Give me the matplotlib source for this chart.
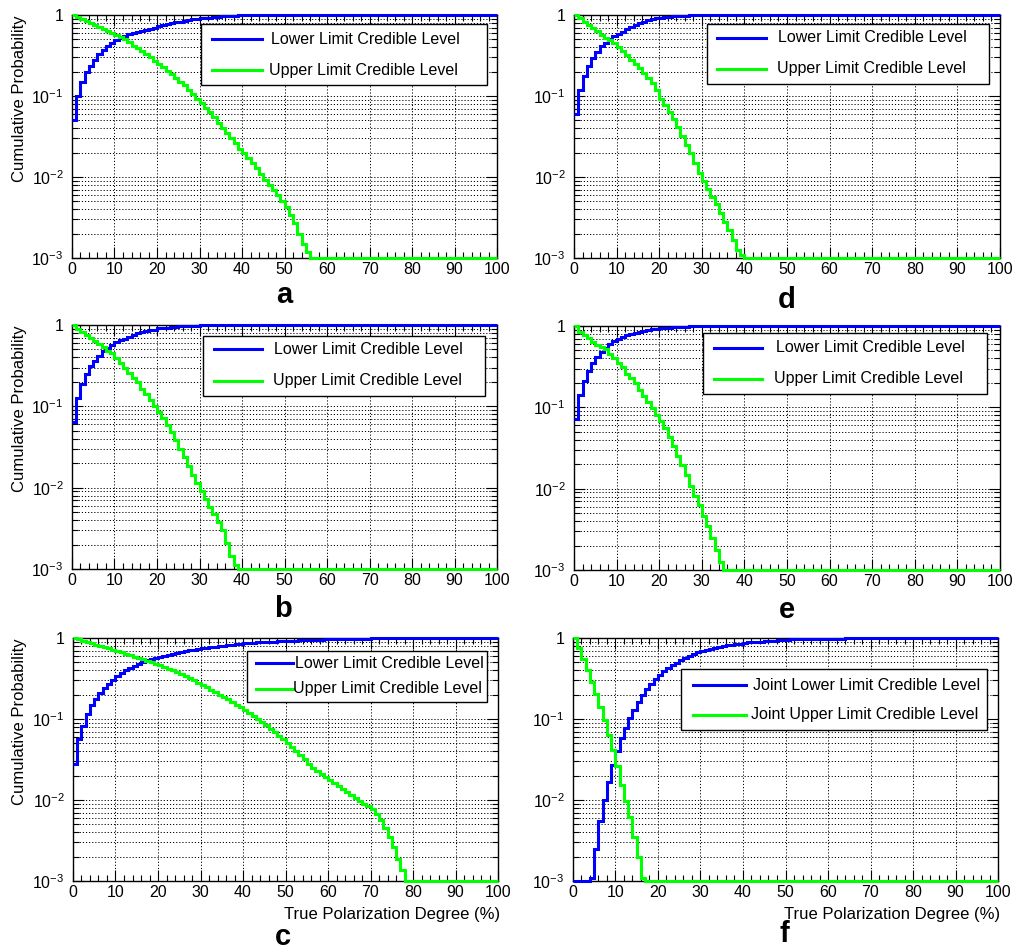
import matplotlib
matplotlib.use('Agg')
import matplotlib.pyplot as plt
import numpy as np
from matplotlib.ticker import LogLocator, MultipleLocator, NullFormatter
from matplotlib.patches import Rectangle
from matplotlib.lines import Line2D

plt.rcParams['font.family'] = ['Liberation Sans', 'DejaVu Sans']
plt.rcParams['mathtext.fontset'] = 'custom'
plt.rcParams['mathtext.rm'] = 'Liberation Sans'
plt.rcParams['mathtext.default'] = 'regular'

# cumulative probability per 1% bin of true polarization degree (bin i = [i, i+1]);
# the last value of each list holds up to 100%
lower_a = [0.051, 0.100, 0.150, 0.196, 0.237, 0.278, 0.327, 0.37, 0.41, 0.45,
           0.49, 0.525, 0.55, 0.577, 0.60, 0.62, 0.64, 0.66, 0.68, 0.70,
           0.73, 0.75, 0.77, 0.79, 0.81, 0.83, 0.85, 0.87, 0.88, 0.90,
           0.91, 0.92, 0.93, 0.94, 0.95, 0.96, 0.965, 0.97, 0.975, 1.0]
upper_a = [1.0, 0.95, 0.90, 0.85, 0.80, 0.76, 0.72, 0.68, 0.64, 0.60,
           0.57, 0.53, 0.50, 0.46, 0.42, 0.39, 0.36, 0.33, 0.30, 0.27,
           0.25, 0.225, 0.205, 0.185, 0.165, 0.15, 0.135, 0.12, 0.105, 0.092,
           0.081, 0.071, 0.063, 0.055, 0.047, 0.040, 0.035, 0.030, 0.026, 0.022,
           0.0196, 0.017, 0.015, 0.013, 0.011, 0.0092, 0.0080, 0.0070, 0.0060, 0.0051,
           0.0043, 0.0034, 0.0027, 0.0020, 0.0015, 0.0012, 0.0]

lower_b = [0.065, 0.128, 0.19, 0.25, 0.31, 0.364, 0.42, 0.48, 0.52, 0.56,
           0.62, 0.65, 0.68, 0.72, 0.75, 0.79, 0.81, 0.84, 0.87, 0.88,
           0.91, 0.92, 0.93, 0.94, 0.95, 0.96, 0.97, 0.975, 0.98, 0.985, 1.0]
upper_b = [1.0, 0.89, 0.81, 0.75, 0.69, 0.64, 0.58, 0.53, 0.48, 0.45,
           0.39, 0.34, 0.30, 0.26, 0.22, 0.197, 0.163, 0.142, 0.12, 0.101,
           0.086, 0.071, 0.059, 0.048, 0.0386, 0.030, 0.024, 0.0187, 0.0143, 0.0113,
           0.0090, 0.0072, 0.0058, 0.0047, 0.0038, 0.0030, 0.0021, 0.00145, 0.00112, 0.0]

lower_c = [0.028, 0.057, 0.083, 0.116, 0.15, 0.178, 0.211, 0.241, 0.273, 0.306,
           0.34, 0.37, 0.40, 0.43, 0.455, 0.48, 0.505, 0.53, 0.545, 0.566,
           0.58, 0.60, 0.617, 0.635, 0.653, 0.67, 0.69, 0.705, 0.72, 0.73,
           0.745, 0.76, 0.77, 0.78, 0.795, 0.80, 0.82, 0.83, 0.835, 0.85,
           0.86, 0.87, 0.875, 0.88, 0.89, 0.895, 0.90, 0.905, 0.91, 0.915,
           0.92, 0.925, 0.93, 0.935, 0.94, 0.945, 0.95, 0.952, 0.955, 0.96,
           0.962, 0.965, 0.967, 0.97, 0.972, 0.975, 0.977, 0.98, 0.982, 0.984,
           0.986, 0.988, 0.99, 0.991, 0.992, 0.993, 0.994, 1.0]
upper_c = [1.0, 0.96, 0.93, 0.89, 0.86, 0.83, 0.80, 0.77, 0.75, 0.72,
           0.70, 0.67, 0.64, 0.62, 0.59, 0.57, 0.55, 0.52, 0.50, 0.48,
           0.46, 0.44, 0.42, 0.40, 0.38, 0.363, 0.34, 0.32, 0.30, 0.28,
           0.26, 0.245, 0.23, 0.213, 0.20, 0.187, 0.175, 0.162, 0.15, 0.139,
           0.128, 0.118, 0.109, 0.10, 0.091, 0.0835, 0.076, 0.069, 0.062, 0.056,
           0.050, 0.045, 0.040, 0.036, 0.032, 0.028, 0.025, 0.023, 0.021, 0.019,
           0.0175, 0.016, 0.0147, 0.0135, 0.0124, 0.0114, 0.0105, 0.0097, 0.0090, 0.0084,
           0.0078, 0.0068, 0.0057, 0.0045, 0.0035, 0.0026, 0.00185, 0.00136, 0.0]

lower_d = [0.06, 0.119, 0.177, 0.235, 0.297, 0.35, 0.41, 0.45, 0.50, 0.55,
           0.59, 0.62, 0.67, 0.72, 0.75, 0.80, 0.83, 0.86, 0.88, 0.91,
           0.93, 0.94, 0.95, 0.96, 0.97, 0.975, 0.98, 1.0]
upper_d = [1.0, 0.91, 0.81, 0.75, 0.70, 0.64, 0.57, 0.525, 0.49, 0.45,
           0.40, 0.36, 0.32, 0.28, 0.25, 0.22, 0.19, 0.166, 0.143, 0.119,
           0.093, 0.077, 0.064, 0.052, 0.041, 0.032, 0.0248, 0.0196, 0.0148, 0.0113,
           0.0088, 0.0072, 0.0057, 0.0047, 0.0036, 0.0028, 0.0022, 0.00166, 0.00126, 0.0011, 0.0]

lower_e = [0.071, 0.142, 0.213, 0.28, 0.354, 0.42, 0.483, 0.53, 0.60, 0.65,
           0.69, 0.73, 0.77, 0.80, 0.83, 0.85, 0.875, 0.89, 0.91, 0.92,
           0.935, 0.945, 0.955, 0.96, 0.97, 0.975, 0.98, 1.0]
upper_e = [1.0, 0.85, 0.775, 0.705, 0.64, 0.58, 0.55, 0.52, 0.45, 0.40,
           0.354, 0.31, 0.26, 0.227, 0.197, 0.163, 0.138, 0.117, 0.097, 0.080,
           0.067, 0.055, 0.043, 0.033, 0.025, 0.0195, 0.0147, 0.0109, 0.0082, 0.0063,
           0.0046, 0.0035, 0.00245, 0.00176, 0.00127, 0.0]

lower_f = [0.0, 0.0, 0.0, 0.0, 0.0011, 0.0025, 0.0055, 0.0099, 0.0167, 0.027,
           0.040, 0.058, 0.078, 0.103, 0.13, 0.162, 0.20, 0.237, 0.273, 0.315,
           0.352, 0.39, 0.43, 0.46, 0.495, 0.53, 0.56, 0.60, 0.635, 0.67,
           0.70, 0.72, 0.74, 0.76, 0.775, 0.79, 0.81, 0.825, 0.84, 0.855,
           0.87, 0.88, 0.89, 0.895, 0.90, 0.91, 0.92, 0.93, 0.94, 0.945,
           0.954, 0.96, 0.963, 0.966, 0.969, 0.97, 0.973, 0.976, 0.978, 0.98,
           0.982, 0.983, 0.984, 0.985, 0.986, 0.987, 0.988, 0.989, 0.99, 0.991,
           0.992, 0.993, 0.994, 0.995, 0.996, 0.997, 0.998, 1.0]
upper_f = [1.0, 0.76, 0.555, 0.40, 0.288, 0.203, 0.14, 0.097, 0.063, 0.041,
           0.0266, 0.0155, 0.0097, 0.0061, 0.0035, 0.0020, 0.0011, 0.0]

lower_label = "Lower Limit Credible Level"
upper_label = "Upper Limit Credible Level"
joint_lower_label = "Joint Lower Limit Credible Level"
joint_upper_label = "Joint Upper Limit Credible Level"
y_ticks = [1e-3, 1e-2, 1e-1, 1]
y_tick_labels = [r'$10^{-3}$', r'$10^{-2}$', r'$10^{-1}$', '1']

BLUE = '#0000ff'
GREEN = '#00ff00'
W, H = 1020, 950

fig = plt.figure(figsize=(W / 100, H / 100), dpi=100)


def fx(x):
    return x / W


def fy(y):
    return 1 - y / H


def draw_legend(box, line_x, rows):
    l, t, r, b = box
    fig.add_artist(Rectangle((fx(l), fy(b)), fx(r - l), (b - t) / H, transform=fig.transFigure,
                             facecolor='white', edgecolor='black', lw=1.0, zorder=5))
    for color, label, y, tx in rows:
        fig.add_artist(Line2D([fx(line_x[0]), fx(line_x[1])], [fy(y), fy(y)], transform=fig.transFigure,
                              color=color, lw=2.2, zorder=6))
        fig.text(fx(tx), fy(y), label, ha='left', va='center', fontsize=11.5, zorder=7)


# letter, lower, upper, axes box (left, top, right, bottom) in px, legend box, legend line x, legend rows
panels = [
    ('a', lower_a, upper_a, (72, 15, 497, 258), (201, 24, 487, 85), (212, 262),
     [(39, 271), (70, 269)], (284, 303), True, False, (lower_label, upper_label)),
    ('b', lower_b, upper_b, (72, 325, 497, 569), (203, 336, 485, 396), (214, 262),
     [(349, 274), (381, 273)], (283, 617), True, False, (lower_label, upper_label)),
    ('c', lower_c, upper_c, (73, 638, 498, 881), (247, 651, 487, 702), (256, 293),
     [(663, 295), (689, 293)], (283, 945), True, True, (lower_label, upper_label)),
    ('d', lower_d, upper_d, (574, 15, 1000, 258), (707, 24, 989, 84), (717, 766),
     [(38, 778), (69, 777)], (787, 308), False, False, (lower_label, upper_label)),
    ('e', lower_e, upper_e, (574, 326, 1000, 570), (703, 333, 987, 394), (714, 762),
     [(348, 776), (379, 774)], (787, 618), False, False, (lower_label, upper_label)),
    ('f', lower_f, upper_f, (573, 638, 998, 881), (681, 669, 987, 730), (693, 746),
     [(685, 753), (715, 751)], (784, 942), False, True, (joint_lower_label, joint_upper_label)),
]

for letter, lower, upper, (l, t, r, b), lbox, lline, lrows, lpos, ylab, xlab, labels in panels:
    ax = fig.add_axes([fx(l), fy(b), fx(r - l), (b - t) / H])
    for vals, color in ((lower, BLUE), (upper, GREEN)):
        edges = list(range(len(vals))) + [100]
        ax.stairs(np.clip(vals, 1e-3, None), edges, baseline=None, color=color, lw=2.2,
                  clip_on=False, zorder=3)
    ax.set_yscale('log')
    ax.set_ylim(1e-3, 1)
    ax.set_xlim(0, 100)
    ax.xaxis.set_major_locator(MultipleLocator(10))
    ax.xaxis.set_minor_locator(MultipleLocator(2))
    ax.set_yticks(y_ticks)
    ax.set_yticklabels(y_tick_labels)
    ax.yaxis.set_minor_locator(LogLocator(base=10, subs=np.arange(2, 10)))
    ax.yaxis.set_minor_formatter(NullFormatter())
    ax.tick_params(which='both', direction='in', top=True, right=True, labelsize=11.5, width=0.8)
    ax.tick_params(which='major', length=8)
    ax.tick_params(which='minor', length=4)
    ax.tick_params(axis='y', pad=6)
    ax.tick_params(axis='x', pad=3)
    grid_style = dict(color='black', ls=(0, (1.2, 2.0)), lw=0.7)
    ax.grid(True, which='major', axis='x', **grid_style)
    ax.grid(True, which='both', axis='y', **grid_style)
    for sp in ax.spines.values():
        sp.set_linewidth(1.0)

    if ylab:
        fig.text(fx(20), fy(t), 'Cumulative Probability', rotation=90, ha='center', va='top', fontsize=12)
    if xlab:
        fig.text(fx(r + 2), fy(914), 'True Polarization Degree (%)', ha='right', va='center', fontsize=12)

    rows = [(BLUE, labels[0]) + lrows[0], (GREEN, labels[1]) + lrows[1]]
    draw_legend(lbox, lline, rows)
    fig.text(fx(lpos[0]), fy(lpos[1]), letter, ha='center', va='baseline', fontsize=21, fontweight='bold')

fig.savefig('out.png', dpi=100)
